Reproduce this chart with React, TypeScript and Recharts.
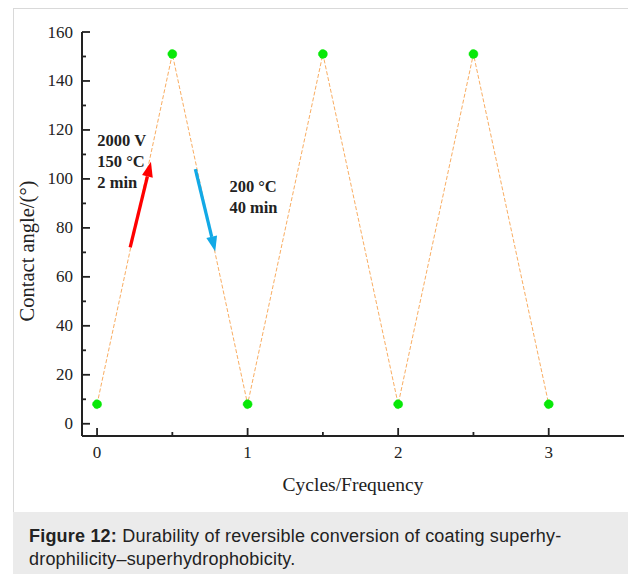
import { LineChart, Line, XAxis, YAxis, ReferenceLine, ReferenceDot } from 'recharts';

// cycle positions and contact angle readings
const cycles = [0, 0.5, 1, 1.5, 2, 2.5, 3];
const angles = [8, 151, 8, 151, 8, 151, 8];

const xTicks = [0, 0.5, 1, 1.5, 2, 2.5, 3];
const yTicks = [0, 10, 20, 30, 40, 50, 60, 70, 80, 90, 100, 110, 120, 130, 140, 150, 160];

const data = cycles.map((c, i) => ({ cycle: c, angle: angles[i] }));

const SERIF = '"Liberation Serif", "Times New Roman", serif';
const SANS = '"Liberation Sans", Arial, sans-serif';
const INK = '#222';
const GAP = 8; // tickSize + tickMargin

const XTick = (props: any) => {
  const { x, y, payload } = props;
  const major = Number.isInteger(payload.value);
  const ay = y - GAP;
  return (
    <g>
      <line x1={x} x2={x} y1={ay} y2={ay - (major ? 8 : 4)} stroke={INK} strokeWidth={1.8} />
      {major && (
        <text x={x} y={ay + 22} textAnchor="middle" fontFamily={SERIF} fontSize={17} fill={INK}>
          {payload.value}
        </text>
      )}
    </g>
  );
};

const YTick = (props: any) => {
  const { x, y, payload } = props;
  const major = payload.value % 20 === 0;
  const ax = x + GAP;
  return (
    <g>
      <line x1={ax} x2={ax + (major ? 8 : 4)} y1={y} y2={y} stroke={INK} strokeWidth={1.8} />
      {major && (
        <text x={ax - 9} y={y + 5.5} textAnchor="end" fontFamily={SERIF} fontSize={17} fill={INK}>
          {payload.value}
        </text>
      )}
    </g>
  );
};

const arrow = (color: string) => (p: any) => {
  const { x1, y1, x2, y2 } = p;
  const ang = Math.atan2(y2 - y1, x2 - x1);
  const len = 15;
  const half = 5.5;
  const bx = x2 - len * Math.cos(ang);
  const by = y2 - len * Math.sin(ang);
  const nx = -Math.sin(ang) * half;
  const ny = Math.cos(ang) * half;
  return (
    <g>
      <line x1={x1} y1={y1} x2={bx} y2={by} stroke={color} strokeWidth={3.3} />
      <polygon points={`${x2},${y2} ${bx + nx},${by + ny} ${bx - nx},${by - ny}`} fill={color} />
    </g>
  );
};

const note = (lines: string[]) => (p: any) => (
  <text x={p.cx} y={p.cy} fontFamily={SERIF} fontSize={16.5} fontWeight="bold" fill={INK}>
    {lines.map((l, i) => (
      <tspan key={i} x={p.cx} dy={i === 0 ? 0 : 21}>{l}</tspan>
    ))}
  </text>
);

export default function App() {
  return (
    <div style={{ position: 'absolute', left: 0, top: 0, width: 628, height: 574, background: '#fff', overflow: 'hidden' }}>
      <div style={{ position: 'absolute', left: 13, top: 8, width: 640, height: 600, borderLeft: '1px solid #d9d9d9', borderTop: '1px solid #d9d9d9' }} />
      <div style={{ position: 'absolute', left: 0, top: 0 }}>
        <LineChart width={628} height={510} data={data} margin={{ top: 32, right: 4, bottom: 34, left: 22 }}>
          <XAxis
            dataKey="cycle"
            type="number"
            domain={[-0.1, 3.5]}
            ticks={xTicks}
            interval={0}
            allowDecimals
            tickSize={6}
            tickMargin={2}
            tickLine={false}
            tick={<XTick />}
            height={40}
            axisLine={{ stroke: INK, strokeWidth: 2 }}
            label={{
              content: (lp: any) => {
                const vb = lp.viewBox;
                return (
                  <text x={vb.x + vb.width / 2} y={491} textAnchor="middle" fontFamily={SERIF} fontSize={19.5} fill={INK}>
                    Cycles/Frequency
                  </text>
                );
              },
            }}
          />
          <XAxis xAxisId="top" orientation="top" type="number" domain={[-0.1, 3.5]} height={0} tick={false} tickLine={false} axisLine={{ stroke: INK, strokeWidth: 2 }} />
          <YAxis
            type="number"
            domain={[-5, 160]}
            ticks={yTicks}
            interval={0}
            width={60}
            tickSize={6}
            tickMargin={2}
            tickLine={false}
            tick={<YTick />}
            axisLine={{ stroke: INK, strokeWidth: 2 }}
            label={{
              content: () => (
                <text x={34} y={251} transform="rotate(-90 34 251)" textAnchor="middle" fontFamily={SERIF} fontSize={20.5} fill={INK}>
                  Contact angle/(°)
                </text>
              ),
            }}
          />
          <YAxis yAxisId="right" orientation="right" type="number" domain={[-5, 160]} width={0} tick={false} tickLine={false} axisLine={{ stroke: INK, strokeWidth: 2 }} />
          <Line
            dataKey="angle"
            stroke="#f9ad62"
            strokeWidth={1}
            strokeDasharray="4 2"
            isAnimationActive={false}
            dot={{ r: 4.5, fill: '#08e808', stroke: '#08e808', strokeWidth: 0.5 }}
            activeDot={false}
          />
          <ReferenceLine segment={[{ x: 0.22, y: 72 }, { x: 0.358, y: 107 }]} shape={arrow('#f00')} />
          <ReferenceLine segment={[{ x: 0.653, y: 104 }, { x: 0.785, y: 70.4 }]} shape={arrow('#12a9e6')} />
          <ReferenceDot x={0.002} y={113.6} r={0} shape={note(['2000 V', '150 °C', '2 min'])} />
          <ReferenceDot x={0.879} y={94.6} r={0} shape={note(['200 °C', '40 min'])} />
        </LineChart>
      </div>
      <div
        style={{
          position: 'absolute',
          left: 13,
          top: 512,
          width: 615,
          height: 62,
          background: '#ebebeb',
          boxSizing: 'border-box',
          padding: '13px 0 0 16px',
          fontFamily: SANS,
          fontSize: 18,
          letterSpacing: 0.2,
          lineHeight: '23px',
          color: INK,
        }}
      >
        <b>Figure 12:</b> Durability of reversible conversion of coating superhy-
        <br />
        drophilicity–superhydrophobicity.
      </div>
    </div>
  );
}
